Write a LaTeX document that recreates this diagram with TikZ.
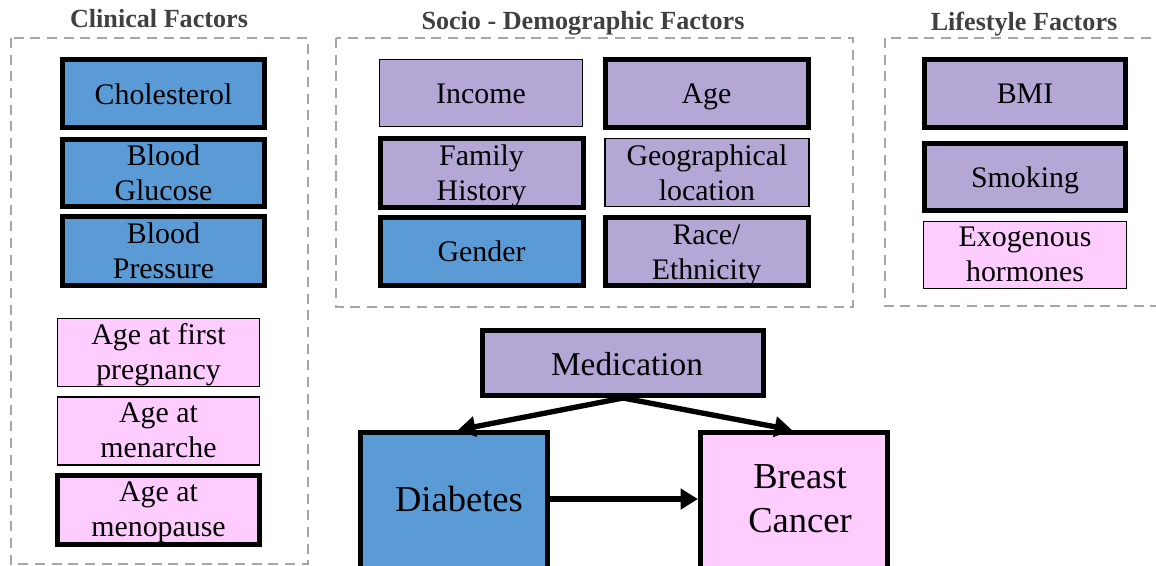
\documentclass[tikz,border=0pt]{standalone}
\usepackage{fontspec}
\setmainfont{Liberation Serif}
\usetikzlibrary{arrows.meta}
\definecolor{cblue}{HTML}{5B9BD5}
\definecolor{cpurple}{HTML}{B4A7D6}
\definecolor{cpink}{HTML}{FFCCFF}
\definecolor{cgrid}{HTML}{A6A6A6}
\definecolor{ctitle}{HTML}{404040}
\newcommand\tl[2][7.9pt]{\raisebox{-#1}[0pt][0pt]{#2}}
\newcommand\rt[2]{\hspace*{#1}#2}
\tikzset{
  bx/.style 2 args={minimum width=#1*0.75pt, minimum height=#2*0.75pt},
  base/.style={draw=black, inner sep=0pt, align=center, font=\fontsize{22.4}{26.3}\selectfont},
  thickb/.style={base, line width=3.75pt},
  thinb/.style={base, line width=1.2pt},
  blue/.style={fill=cblue},
  purple/.style={fill=cpurple},
  pink/.style={fill=cpink},
  group/.style={draw=cgrid, line width=2.2pt, dash pattern=on 7.5pt off 5pt},
  title/.style={anchor=base, text=ctitle, font=\fontsize{19.6}{23}\selectfont\bfseries},
  arr/.style={line width=4pt, -{Triangle[length=13pt, width=15pt]}}
}
\begin{document}
\begin{tikzpicture}[x=0.75pt, y=-0.75pt]
\useasboundingbox (0,0) rectangle (1156,565);
% group frames
\draw[group] (11,38) rectangle (308,564);
\draw[group] (336,38) rectangle (853,307);
\draw[group] (885,38) rectangle (1175,306);
\node[title] (tclin) at (159,27) {Clinical Factors};
\node[title] (tsoc) at (583,29) {Socio - Demographic Factors};
\node[title] (tlife) at (1024,30) {Lifestyle Factors};
% clinical
\node[thickb, blue, bx={202}{68}] (chol) at (163.5,93) {\tl[8.5pt]{Cholesterol}};
\node[thickb, blue, bx={202}{67}] (gluc) at (163.5,172.5) {\tl{Blood}\\\tl{Glucose}};
\node[thickb, blue, bx={202}{69}] (pres) at (163.5,250.5) {\tl{Blood}\\\tl{Pressure}};
\node[thinb, pink, bx={202}{68}] (preg) at (158.5,352.5) {\tl[7pt]{Age at first}\\\tl[7pt]{pregnancy}};
\node[thinb, pink, bx={202}{68}] (mena) at (158.5,431) {\tl[7pt]{Age at}\\\tl[7pt]{menarche}};
\node[thickb, pink, bx={202}{68.5}] (meno) at (158.5,510) {\tl[7pt]{Age at}\\\tl[7pt]{menopause}};
% socio-demographic
\node[thinb, purple, bx={203}{67}] (income) at (481,93) {\tl[8.2pt]{Income}};
\node[thickb, purple, bx={203}{68}] (age) at (706.5,93) {\tl[8.2pt]{Age}};
\node[thickb, purple, bx={203}{69}] (fam) at (481.5,172.5) {\tl{Family}\\\tl{History}};
\node[thinb, purple, bx={204}{68}] (geo) at (707,172.5) {\tl{Geographical}\\\tl{location}};
\node[thickb, blue, bx={203}{68}] (gender) at (481.5,251) {\tl[8.2pt]{Gender}};
\node[thickb, purple, bx={203}{68}] (race) at (706.5,251) {\tl{Race/}\\\tl{Ethnicity}};
% lifestyle
\node[thickb, purple, bx={201}{68}] (bmi) at (1025,93) {\tl[8.2pt]{BMI}};
\node[thickb, purple, bx={201}{67}] (smok) at (1025,177) {\tl[7.6pt]{Smoking}};
\node[thinb, pink, bx={203}{67}] (exo) at (1025,255) {\tl[7pt]{Exogenous}\\\tl[7pt]{hormones}};
% main
\node[thickb, purple, bx={281}{65}, font=\fontsize{25}{30}\selectfont] (med) at (623,363) {\tl[9pt]{\rt{6pt}{Medication}}};
\node[thickb, blue, bx={187}{140}, font=\fontsize{27.4}{33}\selectfont] (diab) at (454,502.5) {\tl[7pt]{\rt{7.5pt}{Diabetes}}};
\node[thickb, pink, bx={187}{140}, font=\fontsize{27.4}{33}\selectfont] (breast) at (794,502.5) {\tl[6pt]{\rt{9pt}{Breast}}\\\tl[6pt]{\rt{9pt}{Cancer}}};
\draw[arr] (med.south) -- ([xshift=3pt]diab.north);
\draw[arr] (med.south) -- ([xshift=-1.5pt]breast.north);
\draw[arr] ([yshift=2.6pt]diab.east) -- ([yshift=2.6pt]breast.west);
\end{tikzpicture}
\end{document}
